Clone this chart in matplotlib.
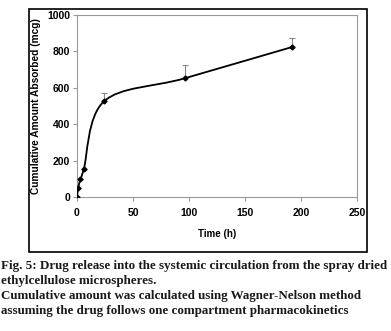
import numpy as np
import matplotlib
matplotlib.use('Agg')
import matplotlib.pyplot as plt
from matplotlib.path import Path
from matplotlib.patches import PathPatch, Rectangle

# time points (h) and cumulative amount absorbed (mcg)
time_h = [0, 1, 3, 6, 24, 96, 192]
absorbed = [0, 48, 97, 152, 525, 652, 824]
err_up = [0, 0, 0, 0, 48, 72, 48]

caption = ["Fig. 5: Drug release into the systemic circulation from the spray dried",
           "ethylcellulose microspheres.",
           "Cumulative amount was calculated using Wagner-Nelson method",
           "assuming the drug follows one compartment pharmacokinetics"]


def smooth_path(x, y, t=1/6):
    # bezier segments through every point, like a spreadsheet "smoothed line"
    x = np.asarray(x, float)
    y = np.asarray(y, float)
    verts = [(x[0], y[0])]
    codes = [Path.MOVETO]
    n = len(x)
    for i in range(n - 1):
        i0 = max(i - 1, 0)
        i3 = min(i + 2, n - 1)
        c1 = (x[i] + (x[i+1] - x[i0]) * t, y[i] + (y[i+1] - y[i0]) * t)
        c2 = (x[i+1] - (x[i3] - x[i]) * t, y[i+1] - (y[i3] - y[i]) * t)
        verts += [c1, c2, (x[i+1], y[i+1])]
        codes += [Path.CURVE4] * 3
    return Path(verts, codes)


fig = plt.figure(figsize=(3.91, 3.31), dpi=100)
ax = fig.add_axes([77/391, 1 - 197/331, 280/391, 182/331])

ax.errorbar(time_h, absorbed, yerr=[np.zeros(len(err_up)), err_up], fmt='none',
            ecolor='#888888', elinewidth=0.8, capsize=2, capthick=0.8, zorder=2)
ax.add_patch(PathPatch(smooth_path(time_h, absorbed), fill=False, lw=1.3,
                       edgecolor='black', zorder=3))
ax.plot(time_h, absorbed, 'D', color='black', markersize=2.5, zorder=4)

ax.set_xlim(0, 250)
ax.set_ylim(0, 1000)
ax.set_xticks(range(0, 251, 50))
ax.set_yticks(range(0, 1001, 200))
for s in ax.spines.values():
    s.set_color('#999999')
    s.set_linewidth(0.8)
ax.tick_params(direction='out', length=3, color='#999999', width=0.8, pad=2)
ax.tick_params(axis='x', pad=5)
for lab in ax.get_xticklabels() + ax.get_yticklabels():
    lab.set_fontfamily('Liberation Sans')
    lab.set_fontweight('bold')
    lab.set_fontsize(7.5)
ax.set_xlabel('Time (h)', fontfamily='Liberation Sans', fontweight='bold',
              fontsize=7, labelpad=8)
ax.set_ylabel('Cumulative Amount Absorbed (mcg)', fontfamily='Liberation Sans',
              fontweight='bold', fontsize=7.3, labelpad=4)

# black frame around the chart
fig.patches.append(Rectangle((29/391, 1 - 252/331), 338/391, 243/331,
                             transform=fig.transFigure, fill=False,
                             edgecolor='black', lw=1.2))

y0 = 1 - 266/331
for i, line in enumerate(caption):
    fig.text(1/391, y0 - i * 15/331, line, fontfamily='Liberation Serif',
             fontweight='bold', fontsize=9.4, va='center', ha='left',
             color='#1a1a1a')

fig.savefig('out.png', dpi=100)
